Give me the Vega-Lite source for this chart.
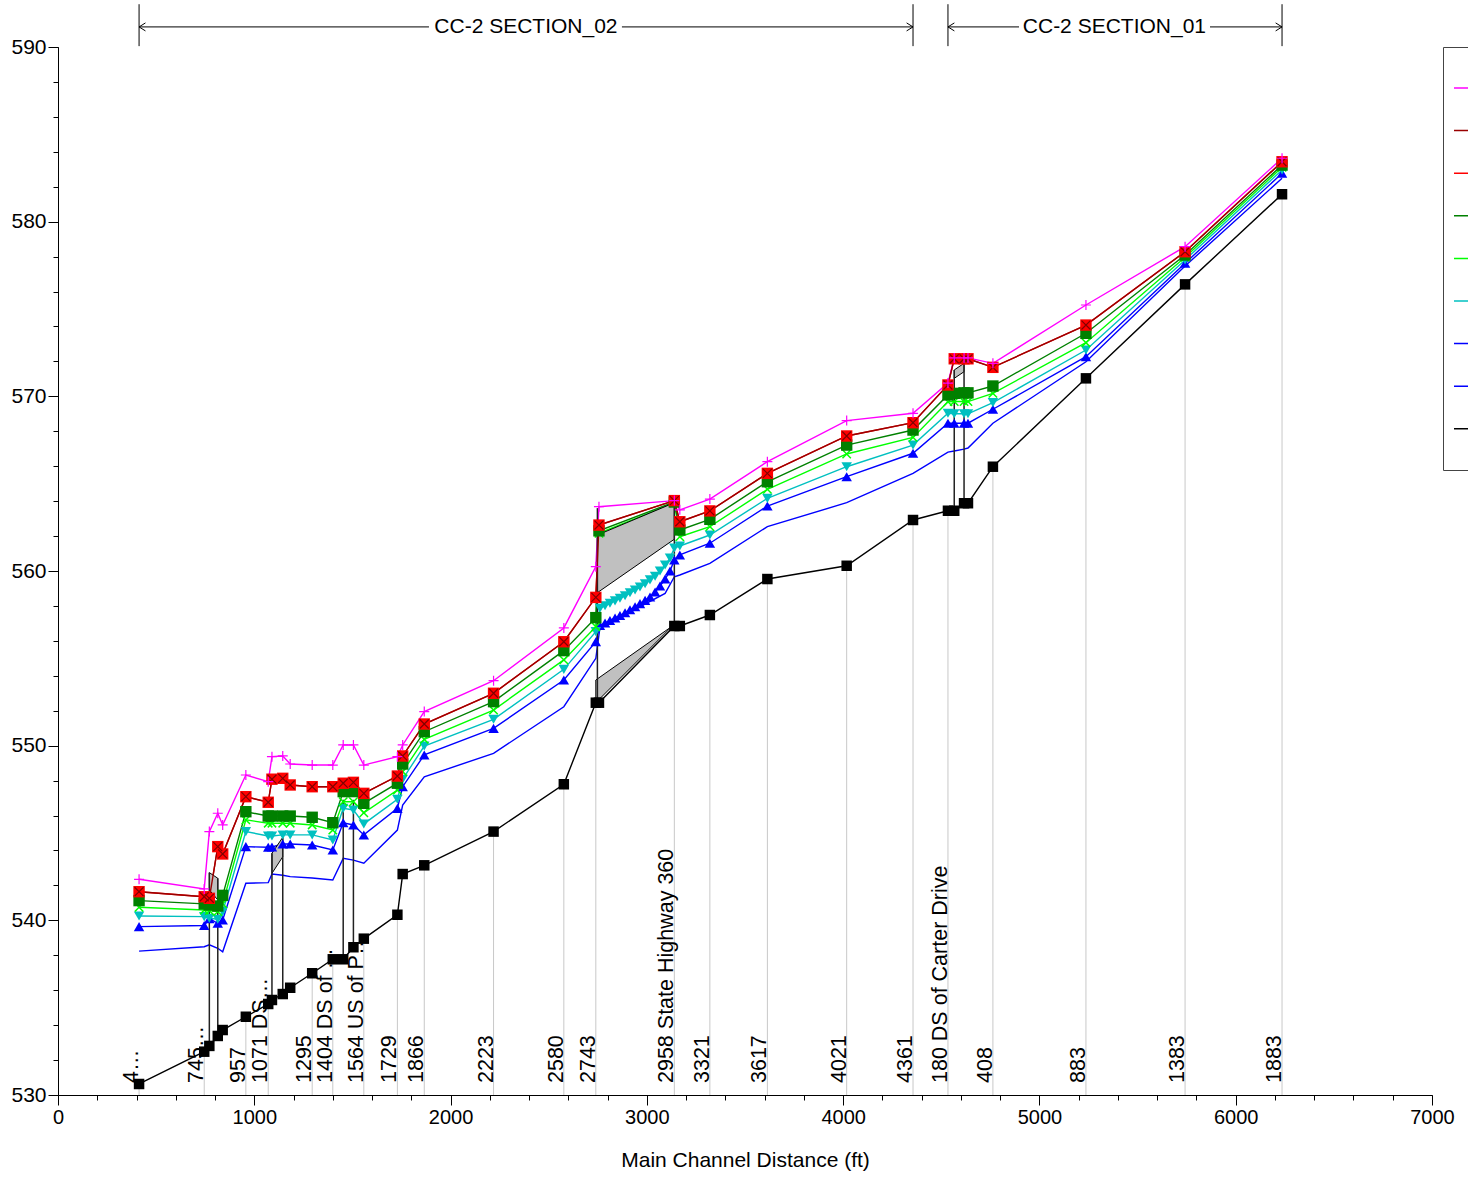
{
  "$schema": "https://vega.github.io/schema/vega-lite/v6.json",
  "width": 1374,
  "height": 1048,
  "autosize": {"type": "none"},
  "padding": {"left": 58, "top": 47, "right": 36, "bottom": 82},
  "background": "white",
  "config": {
    "font": "Liberation Sans",
    "view": {"stroke": null},
    "axis": {"grid": false, "labelOverlap": false, "labelFlush": false, "domainColor": "#000", "tickColor": "#000", "labelColor": "#000", "titleColor": "#000", "labelFont": "Liberation Sans", "titleFont": "Liberation Sans", "titleFontWeight": "normal"}
  },
  "datasets": {
    "ws": [
      {"x": 413, "eg": 542.35, "ws": 541.64, "q50": 541.13, "q25": 540.75, "q10": 540.25, "q5": 539.64, "q2": 538.24, "ground": 530.63},
      {"x": 745, "eg": 541.8, "ws": 541.35, "q50": 540.94, "q25": 540.59, "q10": 540.21, "q5": 539.7, "q2": 538.49, "ground": 532.48},
      {"x": 771, "eg": 545.08, "ws": 541.26, "q50": 540.88, "q25": 540.56, "q10": 540.12, "q5": 540.1, "q2": 538.6, "ground": 532.81},
      {"x": 814, "eg": 546.13, "ws": 544.22, "q50": 540.82, "q25": 540.5, "q10": 540.06, "q5": 539.83, "q2": 538.4, "ground": 533.38},
      {"x": 839, "eg": 545.46, "ws": 543.8, "q50": 541.43, "q25": 540.95, "q10": 540.5, "q5": 540.02, "q2": 538.2, "ground": 533.72},
      {"x": 957, "eg": 548.32, "ws": 547.08, "q50": 546.22, "q25": 545.75, "q10": 545.08, "q5": 544.22, "q2": 542.12, "ground": 534.48},
      {"x": 1071, "eg": 547.94, "ws": 546.76, "q50": 545.97, "q25": 545.56, "q10": 544.83, "q5": 544.18, "q2": 542.16, "ground": 535.21},
      {"x": 1090, "eg": 549.37, "ws": 548.08, "q50": 545.97, "q25": 545.56, "q10": 544.83, "q5": 544.2, "q2": 542.65, "ground": 535.44},
      {"x": 1145, "eg": 549.41, "ws": 548.13, "q50": 545.97, "q25": 545.56, "q10": 544.89, "q5": 544.37, "q2": 542.58, "ground": 535.78},
      {"x": 1183, "eg": 548.95, "ws": 547.75, "q50": 545.97, "q25": 545.56, "q10": 544.89, "q5": 544.37, "q2": 542.5, "ground": 536.14},
      {"x": 1295, "eg": 548.89, "ws": 547.65, "q50": 545.9, "q25": 545.46, "q10": 544.89, "q5": 544.31, "q2": 542.42, "ground": 536.97},
      {"x": 1400, "eg": 548.89, "ws": 547.65, "q50": 545.59, "q25": 545.17, "q10": 544.6, "q5": 544.03, "q2": 542.31, "ground": 537.77},
      {"x": 1453, "eg": 550.04, "ws": 547.85, "q50": 547.37, "q25": 546.79, "q10": 546.41, "q5": 545.59, "q2": 543.55, "ground": 537.77},
      {"x": 1505, "eg": 550.04, "ws": 547.9, "q50": 547.37, "q25": 546.79, "q10": 546.32, "q5": 545.46, "q2": 543.45, "ground": 538.46},
      {"x": 1558, "eg": 548.89, "ws": 547.27, "q50": 546.7, "q25": 546.16, "q10": 545.52, "q5": 544.89, "q2": 543.27, "ground": 538.95},
      {"x": 1729, "eg": 549.37, "ws": 548.26, "q50": 547.85, "q25": 547.46, "q10": 546.93, "q5": 546.41, "q2": 545.17, "ground": 540.32},
      {"x": 1756, "eg": 550.04, "ws": 549.41, "q50": 548.95, "q25": 548.51, "q10": 548.08, "q5": 547.65, "q2": 546.6, "ground": 542.65},
      {"x": 1866, "eg": 551.95, "ws": 551.24, "q50": 550.8, "q25": 550.36, "q10": 549.98, "q5": 549.47, "q2": 548.22, "ground": 543.15},
      {"x": 2219, "eg": 553.72, "ws": 553.0, "q50": 552.52, "q25": 552.04, "q10": 551.51, "q5": 550.99, "q2": 549.56, "ground": 545.08},
      {"x": 2577, "eg": 556.74, "ws": 555.95, "q50": 555.44, "q25": 554.91, "q10": 554.37, "q5": 553.76, "q2": 552.23, "ground": 547.79},
      {"x": 2740, "eg": 560.25, "ws": 558.49, "q50": 557.33, "q25": 556.81, "q10": 556.53, "q5": 555.95, "q2": 555.0, "ground": 552.46},
      {"x": 2756, "eg": 563.68, "ws": 562.63, "q50": 562.3, "q25": 562.16, "ground": 552.46},
      {"x": 2761, "q10": 557.87, "q5": 556.88, "q2": 556.75},
      {"x": 2787, "q10": 558.01, "q5": 557.02},
      {"x": 2812, "q10": 558.15, "q5": 557.17},
      {"x": 2838, "q10": 558.29, "q5": 557.31},
      {"x": 2863, "q10": 558.44, "q5": 557.45},
      {"x": 2889, "q10": 558.58, "q5": 557.61},
      {"x": 2914, "q10": 558.75, "q5": 557.78},
      {"x": 2940, "q10": 558.91, "q5": 557.95},
      {"x": 2965, "q10": 559.08, "q5": 558.13},
      {"x": 2991, "q10": 559.27, "q5": 558.32},
      {"x": 3016, "q10": 559.49, "q5": 558.51},
      {"x": 3042, "q10": 559.7, "q5": 558.8},
      {"x": 3067, "q10": 560.0, "q5": 559.14},
      {"x": 3093, "q10": 560.34, "q5": 559.54, "q2": 558.72},
      {"x": 3118, "q10": 560.74, "q5": 560.0},
      {"x": 3140, "eg": 564.03, "ws": 564.03, "q50": 563.95, "q25": 563.9, "q10": 561.32, "q5": 560.63, "q2": 559.67, "ground": 556.85},
      {"x": 3168, "eg": 563.5, "ws": 562.82, "q50": 562.35, "q25": 561.96, "q10": 561.43, "q5": 560.92, "q2": 559.77, "ground": 556.85},
      {"x": 3321, "eg": 564.12, "ws": 563.44, "q50": 562.96, "q25": 562.54, "q10": 562.06, "q5": 561.59, "q2": 560.44, "ground": 557.48},
      {"x": 3614, "eg": 566.26, "ws": 565.59, "q50": 565.11, "q25": 564.68, "q10": 564.16, "q5": 563.72, "q2": 562.54, "ground": 559.54},
      {"x": 4018, "eg": 568.61, "ws": 567.73, "q50": 567.21, "q25": 566.7, "q10": 565.97, "q5": 565.4, "q2": 563.91, "ground": 560.3},
      {"x": 4356, "eg": 569.03, "ws": 568.49, "q50": 568.07, "q25": 567.65, "q10": 567.21, "q5": 566.74, "q2": 565.59, "ground": 562.92},
      {"x": 4534, "eg": 570.76, "ws": 570.65, "q50": 570.08, "q25": 569.69, "q10": 569.03, "q5": 568.46, "q2": 566.81, "ground": 563.45},
      {"x": 4566, "eg": 572.2, "ws": 572.15, "q50": 570.17, "q25": 569.7, "q10": 569.0, "q5": 568.46, "q2": 566.87, "ground": 563.45},
      {"x": 4616, "eg": 572.2, "ws": 572.15, "q50": 570.2, "q25": 569.7, "q10": 569.0, "q5": 568.46, "q2": 566.98, "ground": 563.88},
      {"x": 4636, "eg": 572.2, "ws": 572.15, "q50": 570.2, "q25": 569.7, "q10": 569.0, "q5": 568.46, "q2": 567.04, "ground": 563.88},
      {"x": 4763, "eg": 571.89, "ws": 571.66, "q50": 570.59, "q25": 570.17, "q10": 569.64, "q5": 569.26, "q2": 568.46, "ground": 565.97},
      {"x": 5237, "eg": 575.23, "ws": 574.08, "q50": 573.61, "q25": 573.07, "q10": 572.65, "q5": 572.27, "q2": 571.98, "ground": 571.03},
      {"x": 5742, "eg": 578.57, "ws": 578.28, "q50": 578.09, "q25": 577.96, "q10": 577.81, "q5": 577.62, "q2": 577.46, "ground": 576.41},
      {"x": 6236, "eg": 583.63, "ws": 583.43, "q50": 583.24, "q25": 583.11, "q10": 582.96, "q5": 582.77, "q2": 582.48, "ground": 581.57}
    ],
    "xs": [
      {"x": 413, "g": 530.63, "label": "4…"},
      {"x": 745, "g": 532.48, "label": "745…"},
      {"x": 957, "g": 534.48, "label": "957"},
      {"x": 1071, "g": 535.21, "label": "1071 DS…"},
      {"x": 1295, "g": 536.97, "label": "1295"},
      {"x": 1400, "g": 537.77, "label": "1404 DS of …"},
      {"x": 1558, "g": 538.95, "label": "1564 US of P…"},
      {"x": 1729, "g": 540.32, "label": "1729"},
      {"x": 1866, "g": 543.15, "label": "1866"},
      {"x": 2219, "g": 545.08, "label": "2223"},
      {"x": 2577, "g": 547.79, "label": "2580"},
      {"x": 2740, "g": 552.46, "label": "2743"},
      {"x": 3140, "g": 556.85, "label": "2958 State Highway 360"},
      {"x": 3321, "g": 557.48, "label": "3321"},
      {"x": 3614, "g": 559.54, "label": "3617"},
      {"x": 4018, "g": 560.3, "label": "4021"},
      {"x": 4356, "g": 562.92, "label": "4361"},
      {"x": 4534, "g": 563.45, "label": "180 DS of Carter Drive"},
      {"x": 4763, "g": 565.97, "label": "408"},
      {"x": 5237, "g": 571.03, "label": "883"},
      {"x": 5742, "g": 576.41, "label": "1383"},
      {"x": 6236, "g": 581.57, "label": "1883"}
    ],
    "br": [
      {"x": 771, "g": 532.81, "t": 542.73},
      {"x": 814, "g": 533.38, "t": 542.41},
      {"x": 1090, "g": 535.44, "t": 543.84},
      {"x": 1145, "g": 535.78, "t": 544.75},
      {"x": 1453, "g": 537.77, "t": 546.9},
      {"x": 1505, "g": 538.46, "t": 546.9},
      {"x": 2748, "g": 552.46, "t": 563.6},
      {"x": 3140, "g": 556.85, "t": 563.91},
      {"x": 4566, "g": 563.45, "t": 571.51},
      {"x": 4616, "g": 563.88, "t": 571.89}
    ],
    "poly": [
      {"id": "a", "x": 771, "t": 542.73, "b": 541.74},
      {"id": "a", "x": 814, "t": 542.41, "b": 541.17},
      {"id": "b", "x": 1090, "t": 543.84, "b": 542.69},
      {"id": "b", "x": 1145, "t": 544.75, "b": 543.64},
      {"id": "c", "x": 2748, "t": 562.06, "b": 558.76},
      {"id": "c", "x": 3140, "t": 563.91, "b": 561.82},
      {"id": "d", "x": 2740, "t": 553.76, "b": 552.46},
      {"id": "d", "x": 3130, "t": 556.85, "b": 556.85},
      {"id": "e", "x": 4566, "t": 571.51, "b": 571.03},
      {"id": "e", "x": 4616, "t": 571.89, "b": 571.41}
    ],
    "secv": [{"x": 413}, {"x": 4356}, {"x": 4534}, {"x": 6236}],
    "sech": [
      {"x": 413, "x2": 1890},
      {"x": 2873, "x2": 4356},
      {"x": 4534, "x2": 4896},
      {"x": 5869, "x2": 6236}
    ],
    "sect": [
      {"x": 2384, "t": "CC-2 SECTION_02"},
      {"x": 5382, "t": "CC-2 SECTION_01"}
    ],
    "seca": [
      {"x": 413, "d": "L"},
      {"x": 4356, "d": "R"},
      {"x": 4534, "d": "L"},
      {"x": 6236, "d": "R"}
    ]
  },
  "resolve": {"axis": {"x": "independent", "y": "independent"}},
  "layer": [
    {
      "layer": [
        {
          "data": {"name": "ws"},
          "transform": [
            {"fold": ["ground", "q2", "q5", "q10", "q25", "q50", "ws", "eg"], "as": ["s", "y"]},
            {"filter": "isValid(datum.y)"}
          ],
          "mark": {"type": "line", "strokeWidth": 1.4},
          "encoding": {
            "x": {
              "field": "x",
              "type": "quantitative",
              "scale": {"domain": [0, 7000], "nice": false, "zero": false},
              "title": "Main Channel Distance (ft)",
              "axis": {
                "orient": "bottom",
                "values": [0, 1000, 2000, 3000, 4000, 5000, 6000, 7000],
                "format": "d",
                "tickSize": 10,
                "labelFontSize": 20,
                "labelPadding": 2,
                "labelOverlap": false,
                "labelFlush": false,
                "titleFontSize": 21,
                "titlePadding": 22
              }
            },
            "y": {
              "field": "y",
              "type": "quantitative",
              "scale": {"domain": [530, 590], "nice": false, "zero": false},
              "title": null,
              "axis": {
                "orient": "left",
                "values": [530, 540, 550, 560, 570, 580, 590],
                "format": "d",
                "tickSize": 10,
                "labelFontSize": 21,
                "labelPadding": 2,
                "labelOverlap": false,
                "labelFlush": false,
                "title": null
              }
            },
            "color": {
              "field": "s",
              "type": "nominal",
              "scale": {
                "domain": ["eg", "wsb", "ws", "q50", "q25", "q10", "q5", "q2", "ground"],
                "range": ["#ff00ff", "#990000", "#ff0000", "#008000", "#00ff00", "#00c0c0", "#0000ff", "#0000ff", "#000000"]
              },
              "legend": {
                "orient": "none",
                "legendX": 1385,
                "legendY": 0,
                "title": "Legend",
                "titleOrient": "bottom",
                "titleAnchor": "end",
                "titleFontSize": 18,
                "titlePadding": 4,
                "titleFontWeight": "normal",
                "symbolType": "stroke",
                "symbolSize": 3600,
                "symbolStrokeWidth": 1.5,
                "rowPadding": 2.6,
                "padding": 10,
                "strokeColor": "#444",
                "fillColor": "#ffffff",
                "labelFontSize": 18,
                "labelColor": "#000",
                "labelExpr": "{'eg': 'EG Max WS', 'wsb': 'WS Max WS', 'ws': 'WS 500 yr', 'q50': 'WS 100 yr', 'q25': 'WS 50 yr', 'q10': 'WS 10 yr', 'q5': 'WS 2 yr', 'q2': 'Crit 2 yr', 'ground': 'Ground'}[datum.label]"
              }
            }
          }
        },
        {
          "data": {"name": "xs"},
          "mark": {"type": "rule", "color": "#c8c8c8", "strokeWidth": 1},
          "encoding": {
            "x": {"field": "x", "type": "quantitative", "scale": {"domain": [0, 7000], "nice": false, "zero": false}, "title": "Main Channel Distance (ft)"},
            "y": {"field": "g", "type": "quantitative", "scale": {"domain": [530, 590], "nice": false, "zero": false}, "title": null},
            "y2": {"datum": 530}
          }
        },
        {
          "data": {"name": "poly"},
          "mark": {"type": "area", "fill": "#c0c0c0", "stroke": "#000", "strokeWidth": 1, "opacity": 1},
          "encoding": {
            "x": {"field": "x", "type": "quantitative", "scale": {"domain": [0, 7000], "nice": false, "zero": false}, "title": "Main Channel Distance (ft)"},
            "y": {"field": "t", "type": "quantitative", "scale": {"domain": [530, 590], "nice": false, "zero": false}, "title": null},
            "y2": {"field": "b"},
            "detail": {"field": "id", "type": "nominal"}
          }
        },
        {
          "data": {"name": "br"},
          "mark": {"type": "rule", "color": "#222", "strokeWidth": 1.5},
          "encoding": {
            "x": {"field": "x", "type": "quantitative", "scale": {"domain": [0, 7000], "nice": false, "zero": false}, "title": "Main Channel Distance (ft)"},
            "y": {"field": "g", "type": "quantitative", "scale": {"domain": [530, 590], "nice": false, "zero": false}, "title": null},
            "y2": {"field": "t"}
          }
        },
        {
          "data": {"name": "ws"},
          "transform": [{"filter": "isValid(datum.ws)"}],
          "mark": {"type": "line", "strokeWidth": 1.4, "color": "#990000"},
          "encoding": {
            "x": {"field": "x", "type": "quantitative", "scale": {"domain": [0, 7000], "nice": false, "zero": false}, "title": "Main Channel Distance (ft)"},
            "y": {"field": "ws", "type": "quantitative", "scale": {"domain": [530, 590], "nice": false, "zero": false}, "title": null}
          }
        },
        {
          "data": {"name": "ws"},
          "transform": [{"filter": "isValid(datum.ground)"}],
          "mark": {"type": "point", "shape": "square", "filled": true, "size": 110, "color": "#000", "opacity": 1},
          "encoding": {
            "x": {"field": "x", "type": "quantitative", "scale": {"domain": [0, 7000], "nice": false, "zero": false}, "title": "Main Channel Distance (ft)"},
            "y": {"field": "ground", "type": "quantitative", "scale": {"domain": [530, 590], "nice": false, "zero": false}, "title": null}
          }
        },
        {
          "data": {"name": "ws"},
          "transform": [{"filter": "isValid(datum.q5)"}],
          "mark": {"type": "point", "shape": "triangle-up", "filled": true, "size": 110, "color": "#0000ff", "opacity": 1},
          "encoding": {
            "x": {"field": "x", "type": "quantitative", "scale": {"domain": [0, 7000], "nice": false, "zero": false}, "title": "Main Channel Distance (ft)"},
            "y": {"field": "q5", "type": "quantitative", "scale": {"domain": [530, 590], "nice": false, "zero": false}, "title": null}
          }
        },
        {
          "data": {"name": "ws"},
          "transform": [{"filter": "isValid(datum.q10)"}],
          "mark": {"type": "point", "shape": "triangle-down", "filled": true, "size": 110, "color": "#00c0c0", "opacity": 1},
          "encoding": {
            "x": {"field": "x", "type": "quantitative", "scale": {"domain": [0, 7000], "nice": false, "zero": false}, "title": "Main Channel Distance (ft)"},
            "y": {"field": "q10", "type": "quantitative", "scale": {"domain": [530, 590], "nice": false, "zero": false}, "title": null}
          }
        },
        {
          "data": {"name": "ws"},
          "transform": [{"filter": "isValid(datum.q25)"}],
          "mark": {"type": "point", "shape": "M-1,-1L1,1M-1,1L1,-1", "filled": false, "size": 70, "color": "#00ff00", "strokeWidth": 1.5, "opacity": 1},
          "encoding": {
            "x": {"field": "x", "type": "quantitative", "scale": {"domain": [0, 7000], "nice": false, "zero": false}, "title": "Main Channel Distance (ft)"},
            "y": {"field": "q25", "type": "quantitative", "scale": {"domain": [530, 590], "nice": false, "zero": false}, "title": null}
          }
        },
        {
          "data": {"name": "ws"},
          "transform": [{"filter": "isValid(datum.q50)"}],
          "mark": {"type": "point", "shape": "square", "filled": true, "size": 130, "color": "#008000", "opacity": 1},
          "encoding": {
            "x": {"field": "x", "type": "quantitative", "scale": {"domain": [0, 7000], "nice": false, "zero": false}, "title": "Main Channel Distance (ft)"},
            "y": {"field": "q50", "type": "quantitative", "scale": {"domain": [530, 590], "nice": false, "zero": false}, "title": null}
          }
        },
        {
          "data": {"name": "ws"},
          "transform": [{"filter": "isValid(datum.ws)"}],
          "mark": {"type": "point", "shape": "square", "filled": true, "size": 130, "color": "#ff0000", "opacity": 1},
          "encoding": {
            "x": {"field": "x", "type": "quantitative", "scale": {"domain": [0, 7000], "nice": false, "zero": false}, "title": "Main Channel Distance (ft)"},
            "y": {"field": "ws", "type": "quantitative", "scale": {"domain": [530, 590], "nice": false, "zero": false}, "title": null}
          }
        },
        {
          "data": {"name": "ws"},
          "transform": [{"filter": "isValid(datum.ws)"}],
          "mark": {"type": "point", "shape": "M-1,-1L1,1M-1,1L1,-1", "filled": false, "size": 80, "color": "#800000", "strokeWidth": 1.2, "opacity": 1},
          "encoding": {
            "x": {"field": "x", "type": "quantitative", "scale": {"domain": [0, 7000], "nice": false, "zero": false}, "title": "Main Channel Distance (ft)"},
            "y": {"field": "ws", "type": "quantitative", "scale": {"domain": [530, 590], "nice": false, "zero": false}, "title": null}
          }
        },
        {
          "data": {"name": "ws"},
          "transform": [{"filter": "isValid(datum.eg)"}],
          "mark": {"type": "point", "shape": "M-1,0L1,0M0,-1L0,1", "filled": false, "size": 100, "color": "#ff00ff", "strokeWidth": 1.2, "opacity": 1},
          "encoding": {
            "x": {"field": "x", "type": "quantitative", "scale": {"domain": [0, 7000], "nice": false, "zero": false}, "title": "Main Channel Distance (ft)"},
            "y": {"field": "eg", "type": "quantitative", "scale": {"domain": [530, 590], "nice": false, "zero": false}, "title": null}
          }
        },
        {
          "data": {"name": "xs"},
          "mark": {"type": "text", "angle": 270, "align": "left", "baseline": "alphabetic", "dx": 12, "dy": -1, "fontSize": 21.5, "font": "Liberation Sans", "color": "#000"},
          "encoding": {
            "x": {"field": "x", "type": "quantitative", "scale": {"domain": [0, 7000], "nice": false, "zero": false}, "title": "Main Channel Distance (ft)"},
            "y": {"datum": 530, "type": "quantitative", "scale": {"domain": [530, 590], "nice": false, "zero": false}, "title": null},
            "text": {"field": "label", "type": "nominal"}
          }
        },
        {
          "data": {"name": "secv"},
          "mark": {"type": "rule", "color": "#000", "strokeWidth": 1},
          "encoding": {
            "x": {"field": "x", "type": "quantitative", "scale": {"domain": [0, 7000], "nice": false, "zero": false}, "title": "Main Channel Distance (ft)"},
            "y": {"datum": 590.05, "type": "quantitative", "scale": {"domain": [530, 590], "nice": false, "zero": false}, "title": null},
            "y2": {"datum": 592.45}
          }
        },
        {
          "data": {"name": "sech"},
          "mark": {"type": "rule", "color": "#000", "strokeWidth": 1},
          "encoding": {
            "x": {"field": "x", "type": "quantitative", "scale": {"domain": [0, 7000], "nice": false, "zero": false}, "title": "Main Channel Distance (ft)"},
            "x2": {"field": "x2"},
            "y": {"datum": 591.15, "type": "quantitative", "scale": {"domain": [530, 590], "nice": false, "zero": false}, "title": null}
          }
        },
        {
          "data": {"name": "seca"},
          "mark": {"type": "point", "filled": false, "size": 64, "color": "#000", "strokeWidth": 1, "opacity": 1},
          "encoding": {
            "x": {"field": "x", "type": "quantitative", "scale": {"domain": [0, 7000], "nice": false, "zero": false}, "title": "Main Channel Distance (ft)"},
            "y": {"datum": 591.15, "type": "quantitative", "scale": {"domain": [530, 590], "nice": false, "zero": false}, "title": null},
            "shape": {"field": "d", "type": "nominal", "scale": {"domain": ["L", "R"], "range": ["M1.6,-1L0,0L1.6,1", "M-1.6,-1L0,0L-1.6,1"]}, "legend": null}
          }
        },
        {
          "data": {"name": "sect"},
          "mark": {"type": "text", "align": "center", "baseline": "middle", "fontSize": 21, "font": "Liberation Sans", "color": "#000"},
          "encoding": {
            "x": {"field": "x", "type": "quantitative", "scale": {"domain": [0, 7000], "nice": false, "zero": false}, "title": "Main Channel Distance (ft)"},
            "y": {"datum": 591.15, "type": "quantitative", "scale": {"domain": [530, 590], "nice": false, "zero": false}, "title": null},
            "text": {"field": "t", "type": "nominal"}
          }
        }
      ]
    },
    {
      "data": {"name": "xs"},
      "mark": {"type": "point", "opacity": 0},
      "encoding": {
        "x": {
          "field": "x",
          "type": "quantitative",
          "scale": {"domain": [0, 7000], "nice": false, "zero": false},
          "title": null,
          "axis": {
            "orient": "bottom",
            "values": [0, 200, 400, 600, 800, 1000, 1200, 1400, 1600, 1800, 2000, 2200, 2400, 2600, 2800, 3000, 3200, 3400, 3600, 3800, 4000, 4200, 4400, 4600, 4800, 5000, 5200, 5400, 5600, 5800, 6000, 6200, 6400, 6600, 6800, 7000],
            "labels": false,
            "domain": false,
            "tickSize": 5,
            "title": null
          }
        },
        "y": {
          "field": "g",
          "type": "quantitative",
          "scale": {"domain": [530, 590], "nice": false, "zero": false},
          "title": null,
          "axis": {
            "orient": "left",
            "values": [530, 532, 534, 536, 538, 540, 542, 544, 546, 548, 550, 552, 554, 556, 558, 560, 562, 564, 566, 568, 570, 572, 574, 576, 578, 580, 582, 584, 586, 588, 590],
            "labels": false,
            "domain": false,
            "tickSize": 5,
            "title": null
          }
        }
      }
    }
  ]
}
